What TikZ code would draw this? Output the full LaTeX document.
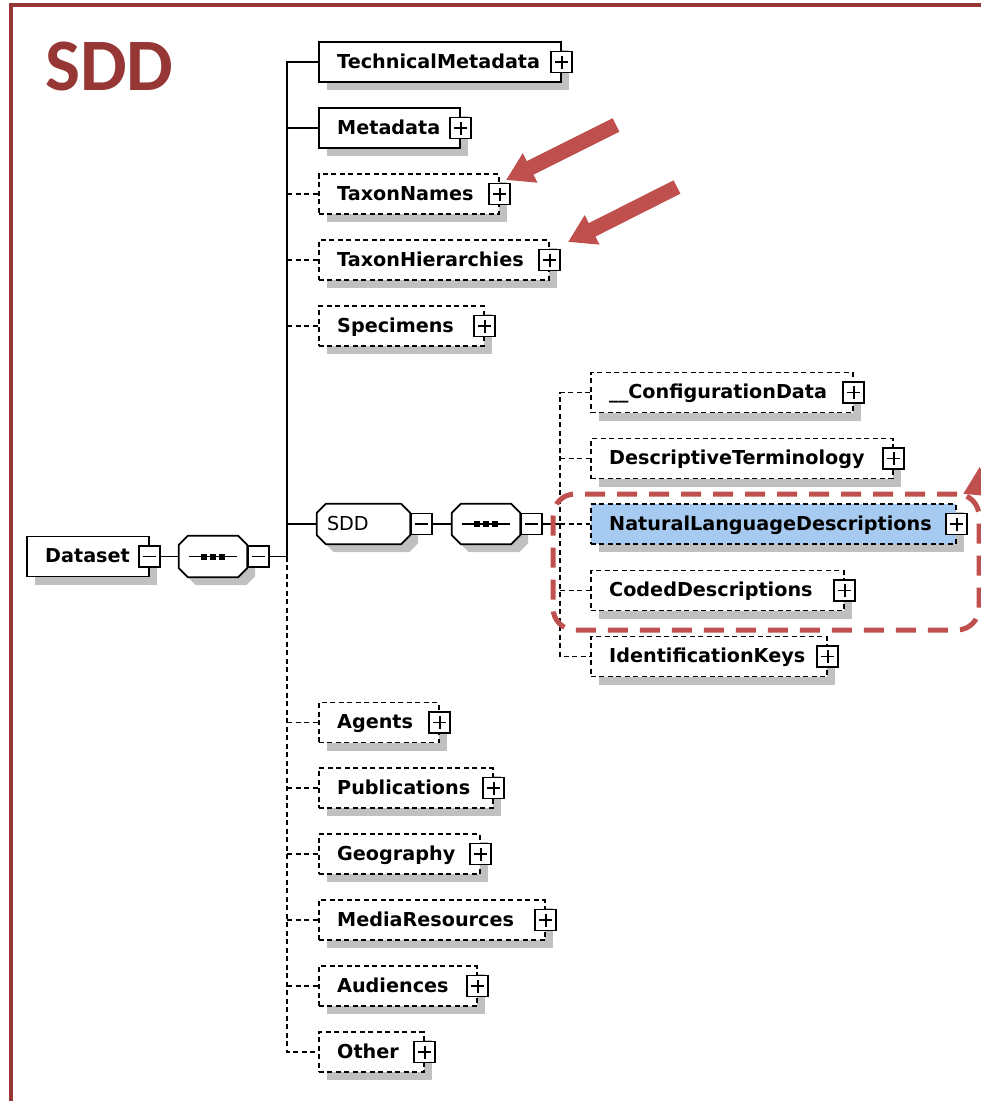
\documentclass[tikz,border=0pt]{standalone}
\usepackage{fontspec}
\newfontfamily\lblfont{DejaVu Sans}
\newfontfamily\titlefont{Carlito}
\usetikzlibrary{shadows,arrows.meta}

\definecolor{framered}{RGB}{150,55,53}
\definecolor{markred}{RGB}{192,80,77}
\definecolor{shgray}{RGB}{192,192,192}
\definecolor{selblue}{RGB}{166,202,240}

\tikzset{
  elembase/.style={minimum height=40pt, inner sep=0pt, line width=1.7pt, fill=white, anchor=west,
    drop shadow={shadow xshift=8pt, shadow yshift=-8pt, fill=shgray, opacity=1}},
  reqbox/.style={elembase, draw, solid},
  optbox/.style={elembase, draw, dash pattern=on 5pt off 3.5pt},
  lbl/.style={font={\lblfont\bfseries\fontsize{19.2}{22}\selectfont}, inner sep=0pt, anchor=base west},
  lblreg/.style={font={\lblfont\fontsize{19.2}{22}\selectfont}, inner sep=0pt, anchor=base west},
  plusbox/.style={draw, solid, fill=white, line width=1.7pt, minimum size=21pt, inner sep=0pt,
    path picture={\draw[line width=1.7pt]
      ([xshift=-6.5pt]path picture bounding box.center) -- ([xshift=6.5pt]path picture bounding box.center)
      ([yshift=-6.5pt]path picture bounding box.center) -- ([yshift=6.5pt]path picture bounding box.center);}},
  minusbox/.style={draw, solid, fill=white, line width=1.7pt, minimum size=21pt, inner sep=0pt,
    path picture={\draw[line width=1.7pt]
      ([xshift=-6.5pt]path picture bounding box.center) -- ([xshift=6.5pt]path picture bounding box.center);}},
  seqanchor/.style={rectangle, inner sep=0pt},
  reqline/.style={line width=1.7pt, solid},
  optline/.style={line width=1.7pt, dash pattern=on 5pt off 3.5pt},
  hlbox/.style={draw=markred, line width=5pt, dash pattern=on 20pt off 12pt, rounded corners=22pt, inner sep=0pt},
  markarrow/.style={markred, line width=15pt, -{Triangle[length=27pt,width=31pt]}},
  titletext/.style={font={\titlefont\bfseries\fontsize{74}{80}\selectfont}, text=framered, inner sep=0pt, anchor=base west},
}

% element box with label and expand button: style, name, left, right, y, label
\newcommand\xsdelem[6]{%
  \pgfmathsetmacro\xsdw{#4-#3}%
  \node[#1, minimum width=\xsdw*1pt] (#2) at (#3,#5) {};
  \node[lbl] (#2-t) at ([xshift=19pt,yshift=-6pt]#2.west) {#6};
  \node[plusbox] (#2-p) at (#2.east) {};
}

% chamfered outline around a node, shifted by (#2,#3)
\newcommand\octagon[3]{%
  ([shift={(#2+9,#3)}]#1.north west) -- ([shift={(#2-9,#3)}]#1.north east) --
  ([shift={(#2,#3+9)}]#1.north east) -- ([shift={(#2,#3-9)}]#1.south east) --
  ([shift={(#2-9,#3)}]#1.south east) -- ([shift={(#2+9,#3)}]#1.south west) --
  ([shift={(#2,#3-9)}]#1.south west) -- ([shift={(#2,#3+9)}]#1.north west) -- cycle}

\newcommand\compositor[1]{%
  \fill[shgray] \octagon{#1}{8}{8};
  \draw[line width=1.7pt, fill=white] \octagon{#1}{0}{0};
}

% sequence symbol inside a compositor
\newcommand\seqsym[1]{%
  \draw[line width=1.7pt] ([xshift=-24pt]#1.center) -- ([xshift=24pt]#1.center);
  \foreach \dx in {-9,0,9} {
    \fill ([shift={(\dx-3,-3)}]#1.center) rectangle ([shift={(\dx+3,3)}]#1.center);
  }
}

\begin{document}
\begin{tikzpicture}[x=1pt,y=-1pt]
\useasboundingbox (0,0) rectangle (981,1101);
\clip (0,0) rectangle (981,1101);
\fill[white] (0,0) rectangle (981,1101);

% frame and title
\draw[framered, line width=4pt] (11,5) rectangle (1010,1130);
\node[titletext] (title) at (45,90) {SDD};

% root element and its sequence
\node[reqbox, minimum width=122pt] (ds) at (26,556.5) {};
\node[lbl] (ds-t) at ([xshift=19pt,yshift=-6pt]ds.west) {Dataset};
\node[minusbox] (ds-m) at (ds.east) {};

\node[seqanchor, minimum width=68pt, minimum height=41pt] (s1) at (213,556.5) {};
\compositor{s1}
\seqsym{s1}
\node[minusbox, anchor=west] (s1-m) at (s1.east) {};

% children of Dataset
\xsdelem{reqbox}{tm}{318}{560}{62}{TechnicalMetadata}
\xsdelem{reqbox}{md}{318}{459}{128}{Metadata}
\xsdelem{optbox}{tn}{318}{498}{194}{TaxonNames}
\xsdelem{optbox}{th}{318}{548}{260}{TaxonHierarchies}
\xsdelem{optbox}{sp}{318}{483}{326}{Specimens}
\xsdelem{optbox}{ag}{318}{438}{722.5}{Agents}
\xsdelem{optbox}{pb}{318}{492}{788}{Publications}
\xsdelem{optbox}{ge}{318}{479}{854}{Geography}
\xsdelem{optbox}{mr}{318}{544}{920}{MediaResources}
\xsdelem{optbox}{au}{318}{476}{986}{Audiences}
\xsdelem{optbox}{ot}{318}{423}{1052}{Other}

% SDD group
\node[seqanchor, minimum width=93pt, minimum height=40pt] (sdd) at (363.5,524) {};
\compositor{sdd}
\node[lblreg] (sdd-t) at ([xshift=10pt,yshift=-6pt]sdd.west) {SDD};
\node[minusbox, anchor=west] (sdd-m) at (sdd.east) {};

\node[seqanchor, minimum width=68pt, minimum height=40pt] (s2) at (486,524) {};
\compositor{s2}
\seqsym{s2}
\node[minusbox, anchor=west] (s2-m) at (s2.east) {};

\xsdelem{optbox}{cf}{590}{852}{392.5}{\_\_ConfigurationData}
\xsdelem{optbox}{dt}{590}{892}{458.5}{DescriptiveTerminology}
\xsdelem{optbox, fill=selblue}{nl}{590}{955}{524}{NaturalLanguageDescriptions}
\xsdelem{optbox}{cd}{590}{843}{590.5}{CodedDescriptions}
\xsdelem{optbox}{ik}{590}{826}{656.5}{IdentificationKeys}

% main spine
\coordinate (jtm) at (287,62);
\coordinate (jds) at (287,556.5);
\coordinate (jot) at (287,1052);
\draw[reqline] (ds-m.east) -- (s1.west);
\draw[reqline] (tm.west) -- (jtm) -- (jds) -- (s1-m.east);
\draw[reqline] (md.west) -- (md.west -| jtm);
\draw[reqline] (sdd.west) -- (sdd.west -| jtm);
\draw[optline] (jds) -- (jot) -- (ot.west);
\foreach \n in {tn,th,sp,ag,pb,ge,mr,au} {
  \draw[optline] (\n.west -| jtm) -- (\n.west);
}

% SDD spine
\coordinate (kcf) at (560,392.5);
\coordinate (knl) at (560,524);
\coordinate (kik) at (560,656.5);
\draw[reqline] (sdd-m.east) -- (s2.west);
\draw[reqline] (s2-m.east) -- (knl);
\draw[optline] (cf.west) -- (kcf) -- (kik) -- (ik.west);
\foreach \n in {dt,nl,cd} {
  \draw[optline] (\n.west -| kcf) -- (\n.west);
}

% highlight and pointers
\node[hlbox, minimum width=426pt, minimum height=136pt] (hl) at (766,562) {};
\coordinate (a1s) at (616,125);
\coordinate (a1e) at (506,180);
\coordinate (a2s) at (677,187);
\coordinate (a2e) at (568,242);
\coordinate (a3s) at (1074,438);
\coordinate (a3e) at (963,494);
\draw[markarrow] (a1s) -- (a1e);
\draw[markarrow] (a2s) -- (a2e);
\draw[markarrow] (a3s) -- (a3e);
\end{tikzpicture}
\end{document}
